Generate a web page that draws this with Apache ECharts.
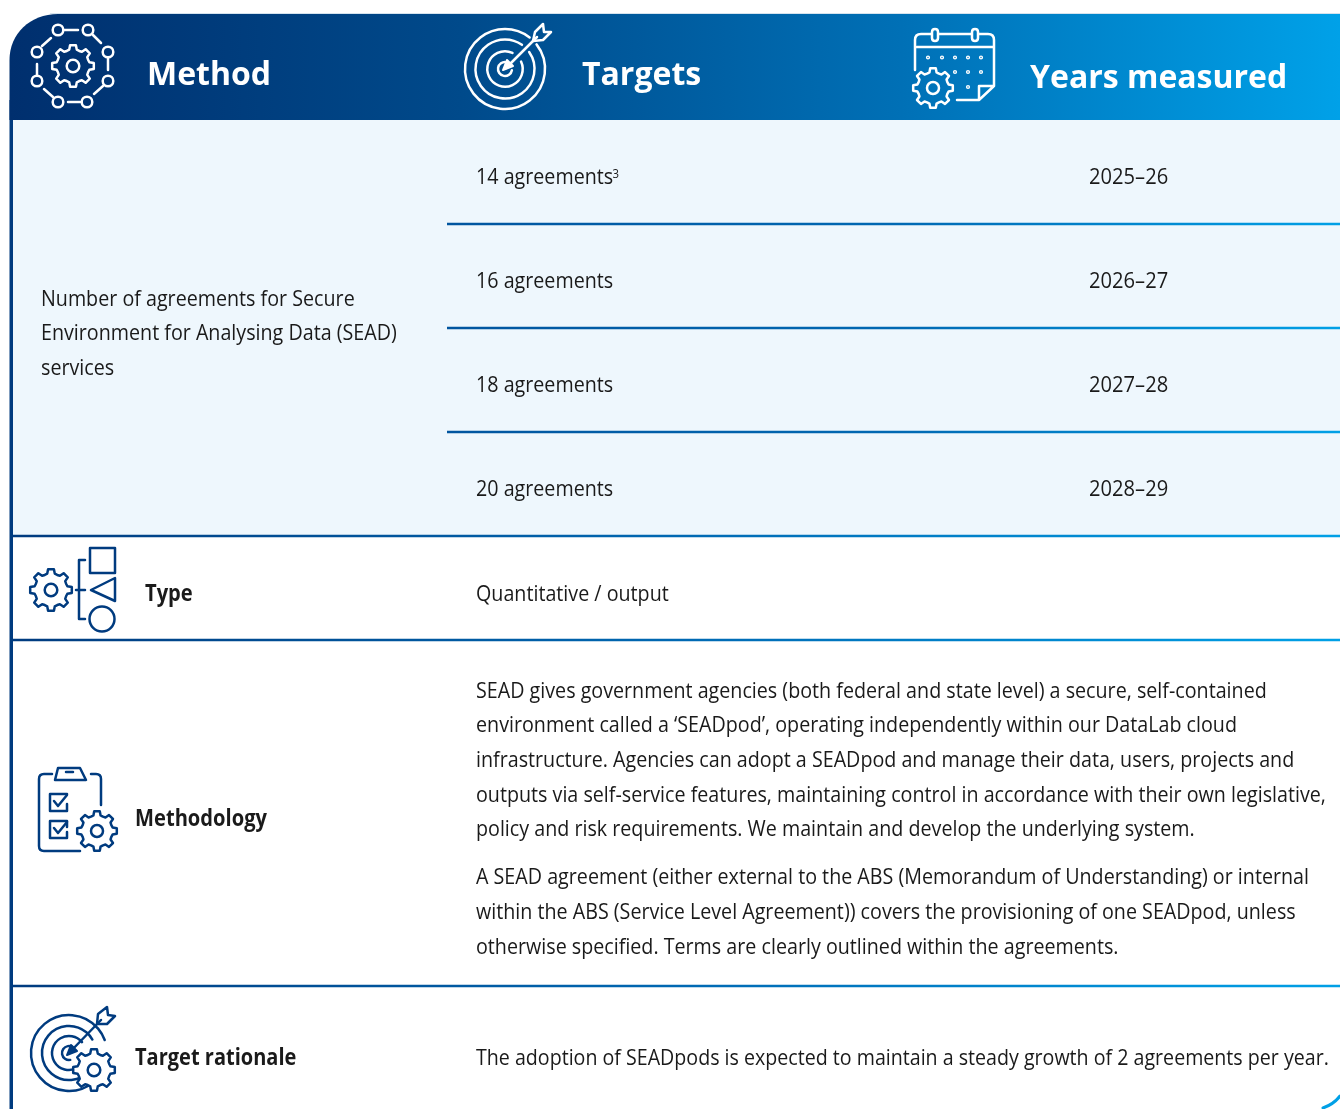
<!DOCTYPE html>
<html><head><meta charset="utf-8">
<style>html,body{margin:0;padding:0;background:#fff}#c{width:1340px;height:1109px}</style>
<script src="https://cdn.jsdelivr.net/npm/echarts@6/dist/echarts.min.js"></script>
</head><body><div id="c"></div>
<script>
const headers = ['Method','Targets','Years measured'];
const targets = ['14 agreements','16 agreements','18 agreements','20 agreements'];
const years = ['2025–26','2026–27','2027–28','2028–29'];
const methodLines = ['Number of agreements for Secure','Environment for Analysing Data (SEAD)','services'];
const typeLabel = 'Type';
const typeValue = 'Quantitative / output';
const methodologyLabel = 'Methodology';
const methodologyLines = [
 'SEAD gives government agencies (both federal and state level) a secure, self-contained',
 'environment called a ‘SEADpod’, operating independently within our DataLab cloud',
 'infrastructure. Agencies can adopt a SEADpod and manage their data, users, projects and',
 'outputs via self-service features, maintaining control in accordance with their own legislative,',
 'policy and risk requirements. We maintain and develop the underlying system.',
 'A SEAD agreement (either external to the ABS (Memorandum of Understanding) or internal',
 'within the ABS (Service Level Agreement)) covers the provisioning of one SEADpod, unless',
 'otherwise specified. Terms are clearly outlined within the agreements.'];
const rationaleLabel = 'Target rationale';
const rationaleValue = 'The adoption of SEADpods is expected to maintain a steady growth of 2 agreements per year.';

const NAVY='#003b7f', INK='#1a1a1a', FONT='"Open Sans"';
const els=[];
const SX=0.875, LW=2.5;
function txt(s,x,y,o={}){els.push({type:'text',x,y,scaleX:o.sx||SX,z:10,style:{text:s,fill:o.fill||INK,font:(o.w||'400')+' '+(o.size||22.5)+'px '+FONT,align:o.align||'left',verticalAlign:'middle'}});}
function path(d,stroke,w,fill,z){els.push({type:'path',z:z||5,shape:{pathData:d},style:{stroke,lineWidth:w||LW,fill:fill||'none',lineJoin:'round',lineCap:'round'}});}
function circ(cx,cy,r,stroke,w,fill,z){els.push({type:'circle',z:z||5,shape:{cx,cy,r},style:{stroke,lineWidth:w||LW,fill:fill||'none'}});}
function arc(cx,cy,r,a,b,stroke,w){els.push({type:'arc',z:5,shape:{cx,cy,r,startAngle:a*Math.PI/180,endAngle:b*Math.PI/180,clockwise:true},style:{stroke,lineWidth:w||LW,fill:'none',lineCap:'round'}});}
function gear(cx,cy,R,stroke,w,fill){
  const n=8, r=R*0.8; let d='';
  const P=(rad,ang)=>{const a=(ang-90)*Math.PI/180;return (cx+rad*Math.cos(a)).toFixed(2)+' '+(cy+rad*Math.sin(a)).toFixed(2);};
  for(let i=0;i<n;i++){const c=i*360/n;
    d+=(i?'L':'M')+P(r,c-13)+'L'+P(R,c-8)+'L'+P(R,c+8)+'L'+P(r,c+13)+'L'+P(r*0.97,c+22.5);
  }
  path(d+'Z',stroke,w||LW,fill||'none',6);
  circ(cx,cy,R*0.3,stroke,w||LW,'none',6);
}
function hline(x0,y,x1,c0){els.push({type:'rect',z:4,shape:{x:x0,y:y-1.2,width:x1-x0,height:2.4},style:{fill:{type:'linear',x:0,y:0,x2:1,y2:0,global:false,colorStops:[{offset:0,color:c0},{offset:.5,color:'#0068b2'},{offset:1,color:'#00a0e6'}]}}});}

// panels
els.push({type:'rect',z:1,shape:{x:13,y:120,width:1327,height:416},style:{fill:'#eef7fd'}});
els.push({type:'rect',z:2,shape:{x:9.5,y:100,width:3.5,height:1009},style:{fill:NAVY}});
els.push({type:'rect',z:2,shape:{x:50,y:13,width:1290,height:1},style:{fill:'#d5e3ee'}});
els.push({type:'path',z:3,shape:{pathData:'M9.5 120 L9.5 60 C9.5 34 30 14 58 14 L1340 14 L1340 120 Z'},style:{fill:{type:'linear',x:0,y:0,x2:1,y2:0,colorStops:[{offset:0,color:'#002f6e'},{offset:.34,color:'#004a8b'},{offset:.67,color:'#0070b6'},{offset:1,color:'#00a1e8'}]}}});
[224,328,432].forEach(y=>hline(447,y,1340,'#00559f'));
[536,640,986].forEach(y=>hline(13,y,1340,NAVY));
path('M1323 1108Q1334 1104 1340 1096','#00a0e6',3);

// header text
const hs={fill:'#fff',w:'700',size:32,sx:1};
txt(headers[0],147,75.5,hs);txt(headers[1],582,75.5,hs);txt(headers[2],1030,78.5,hs);

// body text
const yrs={sx:0.895}, bold={w:'700',sx:0.895};
[298,332,367].forEach((y,i)=>txt(methodLines[i],41,y+2));
[176,280,384,488].forEach((y,i)=>{txt(targets[i],476,y+2);txt(years[i],1089,y+2,yrs);});
els.push({type:'text',x:612.5,y:174,scaleX:SX,z:10,style:{text:'3',fill:INK,font:'400 13px '+FONT,verticalAlign:'middle'}});
txt(typeLabel,145,595,bold);txt(typeValue,476,595);
txt(methodologyLabel,135,820,bold);
[690,724,759,794,828,876,911,946].forEach((y,i)=>txt(methodologyLines[i],476,y+2));
txt(rationaleLabel,135,1059,{w:'700',sx:0.89});txt(rationaleValue,476,1059,{sx:0.872});

// Method icon
const W='#fff';
gear(73,66,21,W);
[[58,30],[88,30],[108,52],[108,81],[87,102],[58,102],[37,81],[37,52]].forEach(p=>circ(p[0],p[1],5.3,W));
['M64 30H78','M93 35L101 43','M108 58V70','M103 86L94 94','M81 102H68','M53 97L44 89','M37 75V64','M42 46L51 38'].forEach(d=>path(d,W));

// Targets icon
arc(505,69,40,-38,-52,W);arc(505,69,29.5,-35,-55,W);arc(505,69,17.7,-25,-65,W);
arc(505,69,7,10,-70,W);
path('M506 68L537 37',W);
path('M503 70L513 66L507 60Z',W,2,W);
path('M533 41L535 32L543 24L544 32L551 32L543 40Z',W);

// Calendar icon
path('M915 70V40Q915 34 921 34H931M939 34H971M979 34H988Q994 34 994 40V86L979 100H957M994 86H979V100M917 47H994',W);
path('M932 32Q932 29 935 29Q938 29 938 32V38Q938 41 935 41Q932 41 932 38ZM972 32Q972 29 975 29Q978 29 978 32V38Q978 41 975 41Q972 41 972 38Z',W);
[[928,57.5],[942,57.5],[955,57.5],[968,57.5],[981,57.5],[955,72],[968,72],[981,72],[968,87]].forEach(p=>circ(p[0],p[1],1.4,W,1.4));
gear(933,88,20,W);

// Type icon
gear(51,590,21,NAVY);
path('M85 560H79V619H85M76 590H85',NAVY);
path('M90 548H115V573H90Z',NAVY);
path('M115 578V601L91 590Z',NAVY);
circ(102,619,12.5,NAVY);

// Methodology icon
path('M52 774H44Q39 774 39 779V846Q39 851 44 851H80M91 774H96Q101 774 101 779V805',NAVY);
path('M58 768H80L86 780H55Z',NAVY);path('M66 772H73',NAVY);
path('M67 794H50V811H67V804M50 821H67V827M50 821V838H67V832',NAVY);
path('M54 801L58 806L67 795M54 828L58 833L67 822',NAVY);
gear(97,831,20,NAVY,LW,'#fff');

// Target rationale icon
arc(69,1053,38,50,-20,NAVY);
arc(69,1053,27,40,-30,NAVY);
arc(69,1053,17,60,-40,NAVY);
arc(69,1053,7,80,-60,NAVY);
path('M70 1052L101 1020',NAVY);
path('M67 1055L77 1051L71 1045Z',NAVY,2,NAVY);
path('M97 1024L98 1014L107 1007L108 1015L115 1016L107 1024Z',NAVY);
gear(94,1070,21,NAVY,LW,'#fff');

const ordered=els.map((e,i)=>({e,i})).sort((a,b)=>(a.e.z-b.e.z)||(a.i-b.i)).map((o,i)=>{const {z,...rest}=o.e;return {...rest,z2:i,silent:true};});
const chart=echarts.init(document.getElementById('c'),null,{renderer:'canvas'});
chart.setOption({animation:false,backgroundColor:'#fff',series:[{type:'custom',coordinateSystem:'none',silent:true,data:[0],clip:false,renderItem:()=>({type:'group',children:ordered})}]});
</script></body></html>
